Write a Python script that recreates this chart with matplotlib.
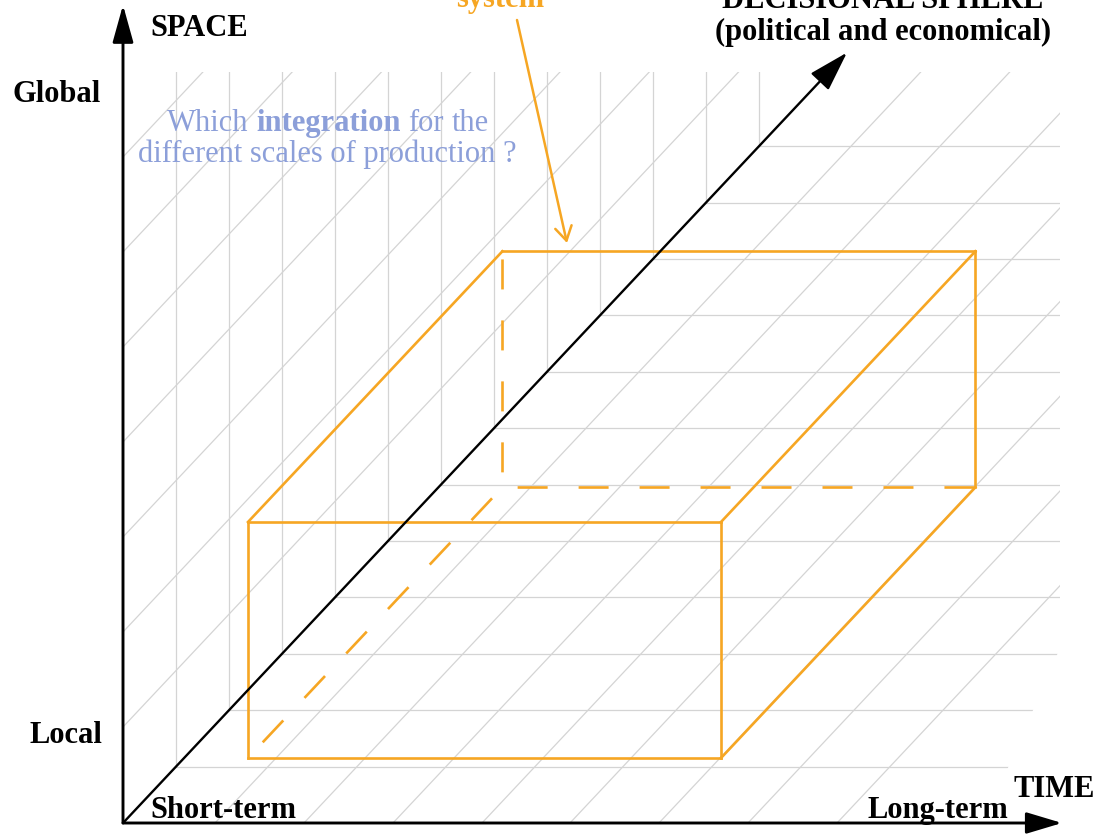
"""
Conceptual 3-D diagram: SPACE x TIME x DECISIONAL SPHERE, with an oblique
grid on the left wall and the floor, and one orange "system" box.
Drawing units are pixels at 100 dpi, measured from the corner of the axes
(y pointing up), so the oblique projection is a plain offset per step.
"""
import numpy as np
import matplotlib
matplotlib.use("Agg")
import matplotlib.pyplot as plt
from matplotlib.patches import Polygon

plt.rcParams["lines.scale_dashes"] = False

# --- diagram model -----------------------------------------------------------
DEC_STEP = np.array([53.0, 56.4])            # screen offset of one decision step
DEC_LEVELS = np.arange(1, 13)                # grid steps along the decision axis
SPACE_LEVELS = [96, 191, 286, 381, 476, 571, 666]        # wall diagonals
TIME_LEVELS = [92, 181, 270, 359, 447, 536, 625, 714]    # floor diagonals
DEC_AXIS_END = 13.66
SPACE_AXIS_END = 818
TIME_AXIS_END = 939
GRID_TOP = 751
GRID_OUTLINE = [(0, 0), (861, 0), (937, 175), (937, GRID_TOP), (0, GRID_TOP)]

BOX_TIME = (125, 598)
BOX_SPACE = (65, 301)
BOX_DEPTH = (0, 4.8)

QUESTION_LINE1 = [("Which", "normal"), ("integration", "bold"), ("for", "normal"),
                  ("the", "normal")]
QUESTION_LINE2 = "different scales of production ?"

ORANGE = "#f6a623"
GRID_COLOR = "#d4d4d4"
QUESTION_COLOR = "#8c9fd9"
SERIF = "Liberation Serif"


def proj(t, s, d):
    """Oblique projection of (time, space, decision) to the drawing plane."""
    return t + d * DEC_STEP[0], s + d * DEC_STEP[1]


fig = plt.figure(figsize=(10.97, 8.35), dpi=100)
ax = fig.add_axes([0, 0, 1, 1])
ax.set_xlim(-123, 974)
ax.set_ylim(-12, 823)
ax.axis("off")

# --- grid (clipped to the drawn region) ---
clip = Polygon(GRID_OUTLINE, closed=True, facecolor="none", edgecolor="none")
ax.add_patch(clip)
grid_kw = dict(color=GRID_COLOR, linewidth=0.9, zorder=1)
grid_lines = []
for k in DEC_LEVELS:
    x, y = proj(0, 0, k)
    grid_lines += ax.plot([x, x], [y, GRID_TOP + 50], **grid_kw)      # wall
    grid_lines += ax.plot([x, 1100], [y, y], **grid_kw)               # floor
for s in SPACE_LEVELS:
    (x0, y0), (x1, y1) = proj(0, s, 0), proj(0, s, 20)
    grid_lines += ax.plot([x0, x1], [y0, y1], **grid_kw)
for t in TIME_LEVELS:
    (x0, y0), (x1, y1) = proj(t, 0, 0), proj(t, 0, 20)
    grid_lines += ax.plot([x0, x1], [y0, y1], **grid_kw)
for ln in grid_lines:
    ln.set_clip_path(clip)

# --- orange box ---
t0, t1 = BOX_TIME
s0, s1 = BOX_SPACE
d0, d1 = BOX_DEPTH
solid_edges = [
    ((t0, s0, d0), (t1, s0, d0)), ((t1, s0, d0), (t1, s1, d0)),
    ((t1, s1, d0), (t0, s1, d0)), ((t0, s1, d0), (t0, s0, d0)),
    ((t0, s1, d1), (t1, s1, d1)), ((t1, s1, d1), (t1, s0, d1)),
    ((t0, s1, d0), (t0, s1, d1)), ((t1, s1, d0), (t1, s1, d1)),
    ((t1, s0, d0), (t1, s0, d1)),
]
hidden_corner = (t0, s0, d1)
hidden_ends = [(t0, s1, d1), (t1, s0, d1), (t0, s0, d0)]
for a, b in solid_edges:
    (xa, ya), (xb, yb) = proj(*a), proj(*b)
    ax.plot([xa, xb], [ya, yb], color=ORANGE, linewidth=1.9,
            solid_capstyle="projecting", zorder=3)
hx, hy = proj(*hidden_corner)
for end in hidden_ends:
    ex, ey = proj(*end)
    ax.plot([hx, ex], [hy, ey], color=ORANGE, linewidth=1.9,
            linestyle=(33, (21.6, 22.3)), zorder=3)

# --- axes arrows ---
axis_kw = dict(color="black", shrinkA=0, shrinkB=0, mutation_scale=20)
ax.annotate("", xy=(0, SPACE_AXIS_END), xytext=(0, 0), zorder=5,
            arrowprops=dict(arrowstyle="-|>,head_length=1.15,head_width=0.32",
                            lw=2.1, **axis_kw))
ax.annotate("", xy=(TIME_AXIS_END, 0), xytext=(0, 0), zorder=5,
            arrowprops=dict(arrowstyle="-|>,head_length=1.1,head_width=0.33",
                            lw=2.1, **axis_kw))
ax.annotate("", xy=proj(0, 0, DEC_AXIS_END), xytext=(0, 0), zorder=4,
            arrowprops=dict(arrowstyle="-|>,head_length=1.25,head_width=0.38",
                            lw=1.7, **axis_kw))

# --- labels ---
lab = dict(family=SERIF, fontsize=22, fontweight="bold", color="black",
           va="baseline", zorder=6)
ax.text(27, 787, "SPACE", ha="left", **lab)
ax.text(-110, 721, "Global", ha="left", **lab)
ax.text(-93, 80, "Local", ha="left", **lab)
ax.text(27, 5, "Short-term", ha="left", **lab)
ax.text(745, 5, "Long-term", ha="left", **lab)
ax.text(890, 26, "TIME", ha="left", **lab)
ax.text(760, 815, "DECISIONAL SPHERE", ha="center", **lab)
ax.text(760, 783, "(political and economical)", ha="center", **lab)

sys_text = ax.text(377, 816, "system", ha="center", family=SERIF, fontsize=22,
                   fontweight="bold", color=ORANGE, va="baseline", zorder=6)
ax.annotate("", xy=(444, 580), xytext=(394, 803), zorder=6,
            arrowprops=dict(arrowstyle="->,head_length=0.5,head_width=0.3",
                            color=ORANGE, lw=1.8, shrinkA=0, shrinkB=0,
                            mutation_scale=20))

# question, first line mixes regular and bold words
renderer = fig.canvas.get_renderer()
q_kw = dict(family=SERIF, fontsize=22, color=QUESTION_COLOR, va="baseline",
            ha="left", zorder=6)
space_w = 0.25 * 22 * 100 / 72
x = 44
for word, weight in QUESTION_LINE1:
    txt = ax.text(x, 692, word, fontweight=weight, **q_kw)
    x += txt.get_window_extent(renderer).width + space_w
ax.text(204, 661, QUESTION_LINE2, family=SERIF, fontsize=22, color=QUESTION_COLOR,
        va="baseline", ha="center", zorder=6)

fig.savefig("out.png", dpi=100, facecolor="white")
